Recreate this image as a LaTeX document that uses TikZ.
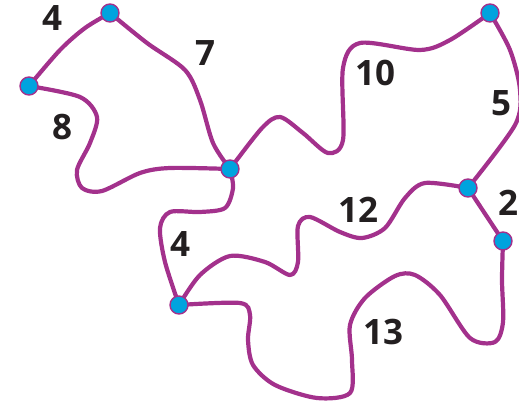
\documentclass[tikz,border=0pt]{standalone}
\usepackage{fontspec}
\setmainfont{Open Sans}
\usepackage{tikz}
\usetikzlibrary{backgrounds}
\usepackage{xcolor}
\definecolor{routepurple}{HTML}{A3318C}
\definecolor{stopblue}{HTML}{00A3DE}
\definecolor{inkblack}{HTML}{231F20}
\tikzset{
  vertex/.style={circle, draw=routepurple, fill=stopblue, line width=1.4pt, minimum size=18pt, inner sep=0pt},
  route/.style={draw=routepurple, line width=4.2pt, line cap=round, line join=round},
  weight/.style={text=inkblack, font=\fontsize{35}{35}\selectfont\bfseries, inner sep=0pt}
}
\begin{document}
\begin{tikzpicture}[x=1pt, y=-1pt]
\useasboundingbox (0,0) rectangle (519,406);
\clip (0,0) rectangle (519,406);
\node[vertex] (a) at (29,86) {};
\node[vertex] (b) at (110,13) {};
\node[vertex] (c) at (230,169) {};
\node[vertex] (d) at (490,13) {};
\node[vertex] (e) at (468,188) {};
\node[vertex] (f) at (503,241) {};
\node[vertex] (g) at (179,305) {};
% weights
\node[weight] (wab) at (52,18) {4};
\node[weight] (wbc) at (205,53) {7};
\node[weight] (wac) at (62,127) {8};
\node[weight] (wcd) at (375,73) {10};
\node[weight] (wde) at (501,103) {5};
\node[weight] (wef) at (508,203) {2};
\node[weight] (wcg) at (180,244) {4};
\node[weight] (wge) at (358,210) {12};
\node[weight] (wgf) at (383,332) {13};
\begin{scope}[on background layer]
\draw[route] plot[smooth] coordinates {(a) (60,50) (85,28) (b)};
\draw[route] plot[smooth] coordinates {(b) (147,43) (185,70) (200,100) (213,143) (c)};
\draw[route] plot[smooth] coordinates {(a) (80,97) (97,117) (90,143) (77,170) (82,188) (102,191) (140,173) (170,168) (c)};
\draw[route] plot[smooth] coordinates {(c) (262,128) (280,117) (303,133) (328,153) (343,140) (343,68) (360,43) (420,50) (450,40) (d)};
\draw[route] plot[smooth] coordinates {(d) (510,50) (520,90) (515,125) (e)};
\draw[route] (e) -- (f);
\draw[route] plot[smooth] coordinates {(c) (233,188) (225,208) (200,212) (170,212) (160,228) (165,262) (g)};
\draw[route] plot[smooth] coordinates {(g) (200,275) (230,256) (265,262) (290,275) (298,262) (298,226) (310,217) (340,232) (362,238) (385,228) (405,198) (425,183) (e)};
\draw[route] plot[smooth] coordinates {(g) (240,303) (250,315) (248,340) (253,365) (275,385) (317,398) (350,393) (352,360) (350,325) (365,298) (395,276) (415,275) (440,295) (470,338) (495,342) (503,322) (502,280) (f)};
\end{scope}
\end{tikzpicture}
\end{document}
